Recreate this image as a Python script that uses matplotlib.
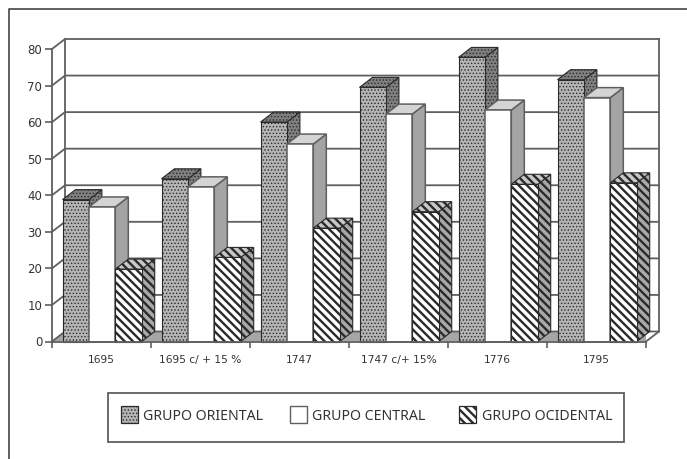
import matplotlib
matplotlib.use('Agg')
import matplotlib.pyplot as plt
from matplotlib.patches import Rectangle

plt.rcParams['font.family'] = ['Noto Sans', 'DejaVu Sans']

#values
categories = ['1695', '1695 c/ + 15 %', '1747', '1747 c/+ 15%', '1776', '1795']
series_names = ['GRUPO ORIENTAL', 'GRUPO CENTRAL', 'GRUPO OCIDENTAL']
oriental = [38.8, 44.5, 60, 69.5, 77.7, 71.6]
central = [36.8, 42.3, 54, 62.2, 63.3, 66.7]
ocidental = [19.8, 23, 31, 35.5, 43, 43.4]
y_ticks = [0, 10, 20, 30, 40, 50, 60, 70, 80]

W, H = 687, 459
LINE = '#5f5f5f'
TEXT = '#333333'
DARK = '#2a2a2a'

fig = plt.figure(figsize=(W / 100, H / 100), dpi=100, facecolor='white')

#overlay in pixel coordinates, for the page border and the legend box
page = fig.add_axes([0, 0, 1, 1], zorder=0)
page.set_xlim(0, W)
page.set_ylim(H, 0)
page.axis('off')
page.plot([9, 9, W], [H, 9, 9], color='#444444', lw=1.2)

#front plane of the 3d chart
ax = fig.add_axes([52 / W, 1 - 341.5 / H, 594 / W, 292.5 / H], zorder=1)
ax.set_xlim(0, 6)
ax.set_ylim(0, 80)
ax.patch.set_alpha(0)

#depth of the chart, 13 px across and 10 px up
dx = 13 / 99
dy = 10 / 3.656

#back wall and floor
ax.fill([0, 6, 6 + dx, dx], [0, 0, dy, dy], color='#a6a6a6', lw=0, zorder=1)
for v in y_ticks:
    ax.plot([0, dx, 6 + dx], [v, v + dy, v + dy], color=LINE, lw=1.3, clip_on=False, zorder=2)
ax.plot([dx, dx], [dy, 80 + dy], color=LINE, lw=1.3, clip_on=False, zorder=2)
ax.plot([6, 6 + dx, 6 + dx], [0, dy, 80 + dy], color=LINE, lw=1.3, clip_on=False, zorder=2)


def box(x0, w, h, faces, z):
    #faces = front, side, top, each a dict of patch options
    ax.fill([x0, x0 + w, x0 + w, x0], [0, 0, h, h], clip_on=False, zorder=z + 0.2, **faces[0])
    ax.fill([x0 + w, x0 + w + dx, x0 + w + dx, x0 + w], [0, dy, h + dy, h],
            clip_on=False, zorder=z, **faces[1])
    ax.fill([x0, x0 + w, x0 + w + dx, x0 + dx], [h, h, h + dy, h + dy],
            clip_on=False, zorder=z + 0.1, **faces[2])


def dots(face):
    plt.rcParams['hatch.linewidth'] = 0.6
    return dict(facecolor=face, edgecolor=DARK, hatch='.....', lw=0.8)


def stripes(face):
    plt.rcParams['hatch.linewidth'] = 1.7
    return dict(facecolor=face, edgecolor=DARK, hatch='\\\\\\\\', lw=0.8)


def plain(face):
    return dict(facecolor=face, edgecolor=LINE, lw=1.1)


bar_w = 26.4 / 99
start = 10.5 / 99
styles = [
    lambda: (dots('#b4b4b4'), dots('#808080'), dots('#808080')),
    lambda: (plain('white'), plain('#a4a4a4'), plain('#d4d4d4')),
    lambda: (stripes('white'), stripes('#a8a8a8'), stripes('#c8c8c8')),
]
for i in range(len(categories)):
    for j, vals in enumerate([oriental, central, ocidental]):
        box(i + start + j * bar_w, bar_w, vals[i], styles[j](), 3 + i * 3 + j)

#axes, ticks and labels
for s in ['top', 'right']:
    ax.spines[s].set_visible(False)
for s in ['left', 'bottom']:
    ax.spines[s].set_color(LINE)
    ax.spines[s].set_linewidth(1.3)
    ax.spines[s].set_zorder(40)
ax.set_yticks(y_ticks)
ax.set_yticklabels(y_ticks, fontfamily=['DejaVu Sans'])
ax.tick_params(axis='y', length=5, width=1.2, color=LINE, labelcolor=TEXT, labelsize=8.5, pad=2)
ax.set_xticks(range(7))
ax.set_xticklabels([])
ax.tick_params(axis='x', which='major', length=4, width=1.2, color=LINE)
ax.set_xticks([i + 0.5 for i in range(6)], minor=True)
ax.set_xticklabels(categories, minor=True, fontfamily=['DejaVu Sans'], fontsize=7.7, color=TEXT)
ax.tick_params(axis='x', which='minor', length=0, pad=10)

#legend box
page.add_patch(Rectangle((108, 393), 516, 49, facecolor='white', edgecolor=LINE, lw=1.3))
swatch_x = [121, 290, 459]
text_x = [143, 312, 482]
plt.rcParams['hatch.linewidth'] = 0.6
page.add_patch(Rectangle((swatch_x[0], 406), 17, 17, facecolor='#b4b4b4', edgecolor=DARK, hatch='.....', lw=0.9))
page.add_patch(Rectangle((swatch_x[1], 406), 17, 17, facecolor='white', edgecolor=LINE, lw=1.0))
plt.rcParams['hatch.linewidth'] = 1.7
page.add_patch(Rectangle((swatch_x[2], 406), 17, 17, facecolor='white', edgecolor=DARK, hatch='\\\\\\\\', lw=0.9))
for x, name in zip(text_x, series_names):
    page.text(x, 416, name, fontsize=10.2, color=TEXT, va='center', ha='left')

fig.savefig('out.png', dpi=100)
